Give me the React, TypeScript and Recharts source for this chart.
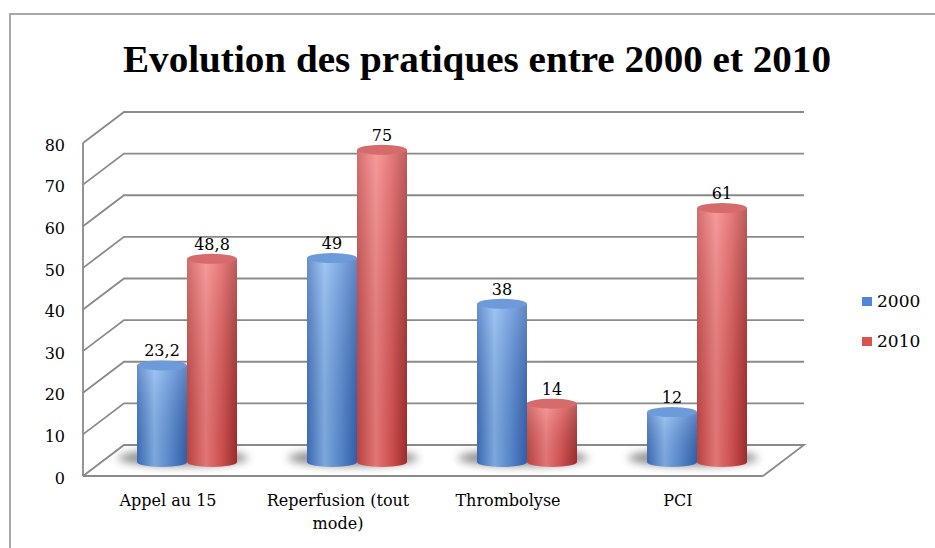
import React from "react";
import {
  BarChart,
  Bar,
  XAxis,
  YAxis,
  CartesianGrid,
  Legend,
  LabelList,
  Text,
} from "recharts";

const categories = ["Appel au 15", "Reperfusion (tout mode)", "Thrombolyse", "PCI"];
const values2000 = [23.2, 49, 38, 12];
const values2010 = [48.8, 75, 14, 61];
const yTicks = [0, 10, 20, 30, 40, 50, 60, 70, 80];
const seriesNames = ["2000", "2010"];
const title = "Evolution des pratiques entre 2000 et 2010";

const data = categories.map((name, i) => ({
  name,
  y2000: values2000[i],
  y2010: values2010[i],
}));

const FONT = "'DejaVu Serif', 'Liberation Serif', serif";
const TITLE_FONT = "'Liberation Serif', 'DejaVu Serif', serif";
const GRID = "#8a8a8a";

// pseudo 3D: back wall offset and bar depth offset
const BACK_DX = 41;
const BACK_DY = -31;
const BAR_DX = 19;
const BAR_DY = -14;
const RY = 5;

function GridLine(props: any) {
  const { x1, y1, x2, y, height, index } = props;
  const isFloor = Math.abs(y1 - (y + height)) < 1;
  let pts = `${x1},${y1} ${x1 + BACK_DX},${y1 + BACK_DY} ${x2 + BACK_DX},${y1 + BACK_DY}`;
  if (isFloor) pts += ` ${x2},${y1}`;
  return (
    <polyline
      key={`grid-${index}`}
      points={pts}
      fill="none"
      stroke={GRID}
      strokeWidth={1.8}
    />
  );
}

function Cylinder(props: any) {
  const { x, y, width, height, gradId, topColor, shadow } = props;
  if (!width || height == null) return null;
  const left = x + BAR_DX;
  const top = y + BAR_DY;
  const bottom = y + height + BAR_DY;
  const rx = width / 2;
  const cx = left + rx;
  const body = `M${left},${top} L${left},${bottom} A${rx},${RY} 0 0 0 ${left + width},${bottom} L${left + width},${top} Z`;
  return (
    <g>
      {shadow && (
        <ellipse
          cx={left + width - 4}
          cy={bottom - 4}
          rx={width * 1.3}
          ry={8}
          fill="#5a5a5a"
          opacity={0.7}
          filter="url(#floorShadow)"
        />
      )}
      <path d={body} fill={`url(#${gradId})`} />
      <path d={body} fill="url(#shine)" />
      <ellipse cx={cx} cy={top} rx={rx} ry={RY} fill={topColor} />
    </g>
  );
}

function ValueLabel(props: any) {
  const { x, y, width, value } = props;
  return (
    <text
      x={x + width / 2 + BAR_DX}
      y={y + BAR_DY - RY - 4}
      textAnchor="middle"
      fontFamily={FONT}
      fontSize={16}
      fill="#000"
    >
      {String(value).replace(".", ",")}
    </text>
  );
}

function CategoryTick(props: any) {
  const { x, y, payload } = props;
  return (
    <Text
      x={x}
      y={y}
      width={165}
      textAnchor="middle"
      verticalAnchor="start"
      lineHeight={23}
      fontFamily={FONT}
      fontSize={16}
      fill="#000"
      style={{ fontFamily: FONT, fontSize: 16 }}
    >
      {payload.value}
    </Text>
  );
}

function renderLegend(props: any) {
  const { payload } = props;
  return (
    <div>
      {payload.map((entry: any) => (
        <div
          key={entry.value}
          style={{ display: "flex", alignItems: "center", height: 40 }}
        >
          <span
            style={{
              display: "inline-block",
              width: 10,
              height: 9,
              background: entry.color,
              marginRight: 5,
            }}
          />
          <span style={{ fontFamily: FONT, fontSize: 17, color: "#000" }}>
            {entry.value}
          </span>
        </div>
      ))}
    </div>
  );
}

export default function App() {
  return (
    <div
      style={{
        position: "fixed",
        left: 0,
        top: 0,
        width: 935,
        height: 548,
        overflow: "hidden",
        background: "#fff",
      }}
    >
      <div
        style={{
          position: "absolute",
          left: 9,
          top: 13,
          width: 1000,
          height: 600,
          borderLeft: "2px solid #a8a8a8",
          borderTop: "2px solid #a8a8a8",
        }}
      />
      <svg
        width={935}
        height={100}
        style={{ position: "absolute", left: 0, top: 0 }}
      >
        <text
          x={477}
          y={72}
          textAnchor="middle"
          fontFamily={TITLE_FONT}
          fontWeight="bold"
          fontSize={38}
          textLength={708}
          lengthAdjust="spacingAndGlyphs"
          fill="#000"
        >
          {title}
        </text>
      </svg>
      <div style={{ position: "absolute", left: 0, top: 0 }}>
        <BarChart
          width={935}
          height={548}
          data={data}
          margin={{ top: 143, right: 172, bottom: 12, left: 23 }}
          barCategoryGap={35}
          barGap={0}
        >
          <defs>
            <linearGradient id="blueBody" x1="0" y1="0" x2="1" y2="0">
              <stop offset="0%" stopColor="#3f71c2" />
              <stop offset="35%" stopColor="#86b6f0" />
              <stop offset="65%" stopColor="#5f93dc" />
              <stop offset="100%" stopColor="#3565b4" />
            </linearGradient>
            <linearGradient id="redBody" x1="0" y1="0" x2="1" y2="0">
              <stop offset="0%" stopColor="#c94646" />
              <stop offset="38%" stopColor="#f57f7f" />
              <stop offset="68%" stopColor="#e05757" />
              <stop offset="100%" stopColor="#a92f2f" />
            </linearGradient>
            <linearGradient id="shine" x1="0" y1="0" x2="0" y2="1">
              <stop offset="0%" stopColor="#ffffff" stopOpacity={0.22} />
              <stop offset="100%" stopColor="#000000" stopOpacity={0.08} />
            </linearGradient>
            <filter id="floorShadow" x="-50%" y="-100%" width="200%" height="300%">
              <feGaussianBlur stdDeviation="4" />
            </filter>
          </defs>
          <CartesianGrid vertical={false} horizontal={GridLine} />
          <XAxis
            dataKey="name"
            height={60}
            interval={0}
            axisLine={{ stroke: GRID, strokeWidth: 1.8 }}
            tickLine={false}
            tickSize={0}
            tickMargin={19}
            tick={<CategoryTick />}
          />
          <YAxis
            width={60}
            domain={[0, 80]}
            ticks={yTicks}
            axisLine={{ stroke: GRID, strokeWidth: 1.8 }}
            tickLine={false}
            tickSize={0}
            tickMargin={18}
            tick={{ fill: "#000", fontFamily: FONT, fontSize: 16, dy: 2 }}
          />
          <Legend
            layout="vertical"
            align="center"
            verticalAlign="middle"
            content={renderLegend}
            wrapperStyle={{ left: 862, top: 281, width: 70 }}
          />
          <Bar
            dataKey="y2000"
            name={seriesNames[0]}
            fill="#4f86d6"
            isAnimationActive={false}
            shape={(p: any) => (
              <Cylinder {...p} gradId="blueBody" topColor="#6d9ad9" shadow />
            )}
          >
            <LabelList dataKey="y2000" content={ValueLabel} />
          </Bar>
          <Bar
            dataKey="y2010"
            name={seriesNames[1]}
            fill="#d9534f"
            isAnimationActive={false}
            shape={(p: any) => (
              <Cylinder {...p} gradId="redBody" topColor="#d56b6b" />
            )}
          >
            <LabelList dataKey="y2010" content={ValueLabel} />
          </Bar>
        </BarChart>
      </div>
    </div>
  );
}
